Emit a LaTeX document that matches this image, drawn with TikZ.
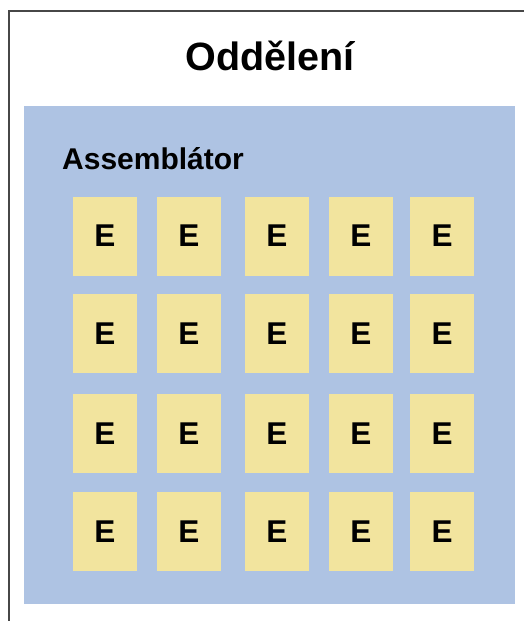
\documentclass[tikz,border=0pt]{standalone}
\usepackage{fontspec}
\setmainfont{Liberation Sans}
\definecolor{bluebg}{HTML}{AEC3E3}
\definecolor{yellowbox}{HTML}{F2E49E}
\definecolor{framegray}{HTML}{474747}
\begin{document}
\begin{tikzpicture}[x=1pt,y=-1pt,
  ebox/.style={fill=yellowbox, minimum width=64pt, minimum height=79pt, inner sep=0pt,
    font=\fontsize{31.5}{31.5}\selectfont\bfseries, text=black},
  panel/.style={fill=bluebg, minimum width=491pt, minimum height=498pt, inner sep=0pt, anchor=north west},
  titletext/.style={font=\fontsize{39.5}{39.5}\selectfont\bfseries, inner sep=0pt, anchor=base},
  paneltext/.style={font=\fontsize{30}{30}\selectfont\bfseries, inner sep=0pt, anchor=base west},
  frame/.style={draw=framegray, line width=1.2pt}
]
\useasboundingbox (0,0) rectangle (523,621);
\coordinate (fbl) at (9,622);
\coordinate (ftl) at (9,11);
\coordinate (ftr) at (524,11);
\draw[frame] (fbl) -- (ftl) -- (ftr);
\node[titletext] (title) at (270,70) {Oddělení};
\node[panel] (assembler) at (24,106) {};
\node[paneltext] (asmlabel) at (62,169) {Assemblátor};
\foreach \x [count=\i] in {105,189,277,361,442}{
  \foreach \y [count=\j] in {236,333.5,433.5,531.5}{
    \node[ebox] (e\j\i) at (\x,\y) {E};
  }
}
\end{tikzpicture}
\end{document}
